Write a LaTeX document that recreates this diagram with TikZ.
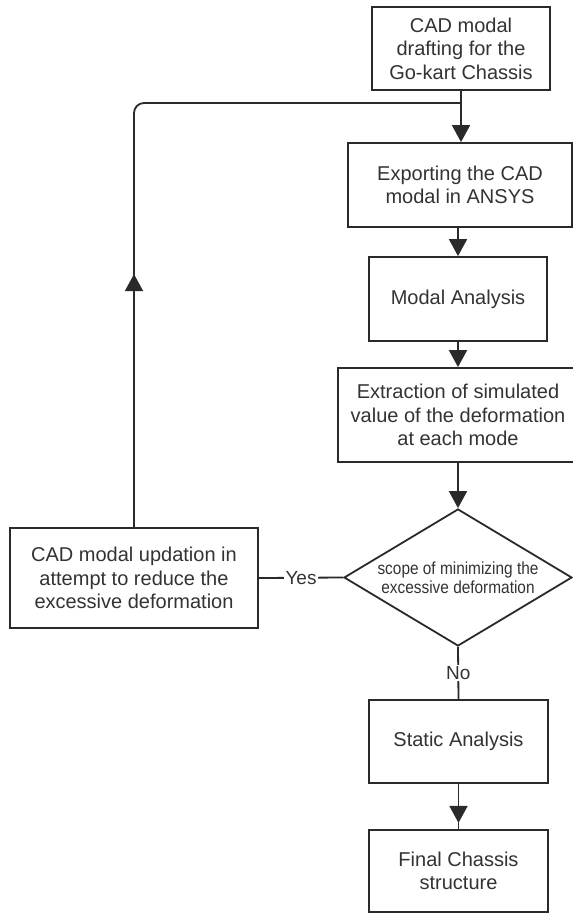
\documentclass[tikz,border=0pt]{standalone}
\usepackage{fontspec}
\setmainfont{Liberation Sans}
\newfontfamily\narrowsans[FakeStretch=0.88]{Liberation Sans}
\usetikzlibrary{arrows.meta,shapes.geometric,decorations.markings}
\definecolor{ln}{HTML}{2A2A2A}
\definecolor{tx}{HTML}{333333}
\begin{document}
\begin{tikzpicture}[x=1pt,y=-1pt,
  box/.style={draw=ln, line width=1.8pt, fill=white, inner sep=0pt, align=center,
    text=tx, font=\fontsize{20}{23.5}\selectfont},
  dec/.style={draw=ln, line width=1.8pt, fill=white, shape=diamond, inner sep=0pt,
    shape aspect=1.66, minimum width=228pt, minimum height=137pt, align=center,
    text=tx, font=\narrowsans\fontsize{17.5}{18.5}\selectfont},
  conn/.style={draw=ln, line width=1.8pt},
  tipend/.style={-{Triangle[length=17pt,width=18pt]}},
  lbl/.style={fill=white, inner sep=1.5pt, text=tx, font=\fontsize{19}{22}\selectfont},
  midtip/.style={postaction={decorate}, decoration={markings,
    mark=at position #1 with {\arrow{Triangle[length=17pt,width=18pt]}}}}
]
\clip (0,0) rectangle (573,914);
\fill[white] (0,0) rectangle (573,914);

\node[box, minimum width=178pt, minimum height=83pt] (b1) at (461,48.5) {CAD modal\\drafting for the\\Go-kart Chassis};
\node[box, minimum width=224pt, minimum height=84pt] (b2) at (460,185) {Exporting the CAD\\modal in ANSYS};
\node[box, minimum width=178pt, minimum height=84pt] (b3) at (458,299) {Modal Analysis};
\node[box, minimum width=240pt, minimum height=94pt] (b4) at (458,415) {Extraction of simulated\\value of the deformation\\at each mode};
\node[dec] (d) at (458,577.5) {scope of minimizing the\\excessive deformation};
\node[box, minimum width=248pt, minimum height=100pt] (up) at (134,578) {CAD modal updation in\\attempt to reduce the\\excessive deformation};
\node[box, minimum width=179pt, minimum height=83pt] (st) at (458.5,741.5) {Static Analysis};
\node[box, minimum width=179pt, minimum height=82pt] (fc) at (458.5,871) {Final Chassis\\structure};

\coordinate (j) at (461,103);

\draw[conn, tipend] (b1.south) -- (b1.south |- b2.north);
\draw[conn, tipend] (b2.south -| b3.north) -- (b3.north);
\draw[conn, tipend] (b3.south) -- (b4.north);
\draw[conn, tipend] (b4.south) -- (d.north);
\draw[conn] (d.south) -- node[lbl] {No} (st.north);
\draw[conn, midtip=39pt] (st.south) -- (fc.north);
\draw[conn] (d.west) -- node[lbl] {Yes} (up.east);
\draw[conn, rounded corners=10pt, midtip=253pt] (up.north) |- (j);
\end{tikzpicture}
\end{document}
